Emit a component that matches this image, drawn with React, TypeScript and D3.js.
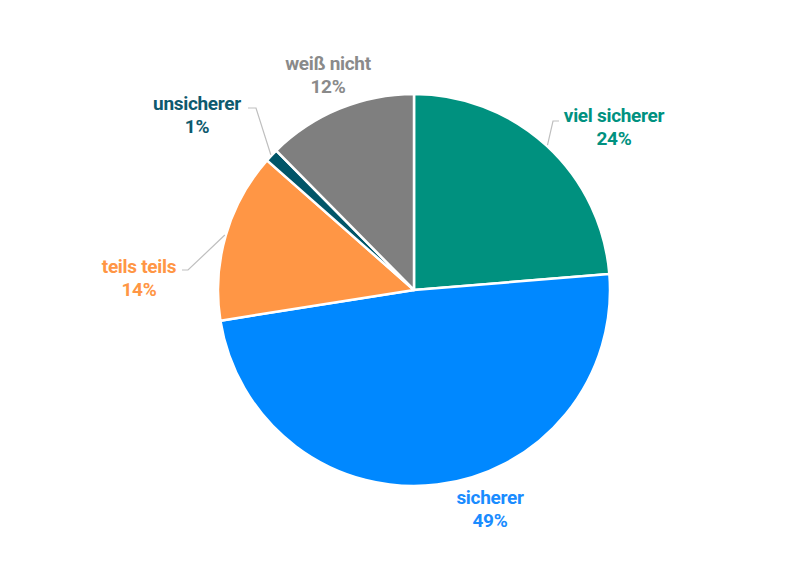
import React from "react";
import * as d3 from "d3";

const categories = ["viel sicherer", "sicherer", "teils teils", "unsicherer", "weiß nicht"];
const values = [23.7, 48.8, 14.0, 1.1, 12.4];
const percentLabels = ["24%", "49%", "14%", "1%", "12%"];
const colors = ["#00917F", "#0088FF", "#FF9645", "#005568", "#7F7F7F"];
const labelColors = ["#00917F", "#1A8CFF", "#FF9645", "#0E5A6E", "#8A8A8A"];

// label layout: text anchor (center, first baseline) and leader elbow point
const labelPos = [
  { x: 614, y: 122, elbowX: 553, elbowY: 121, endX: 559 },
  { x: 490, y: 504, elbowX: null, elbowY: null, endX: null },
  { x: 139, y: 273, elbowX: 188, elbowY: 270, endX: 182 },
  { x: 197, y: 110, elbowX: 256, elbowY: 108, endX: 248 },
  { x: 328, y: 70, elbowX: null, elbowY: null, endX: null },
];

const W = 794;
const H = 580;
const cx = 414;
const cy = 290;
const R = 196;

export default function App() {
  const pie = d3.pie<number>().sort(null).value((d) => d);
  const arcs = pie(values);
  const arcGen = d3.arc<d3.PieArcDatum<number>>().innerRadius(0).outerRadius(R);
  const font = "Roboto, 'Noto Sans', sans-serif";

  const leaders = arcs.map((a, i) => {
    const lp = labelPos[i];
    if (lp.elbowX === null) return null;
    const mid = (a.startAngle + a.endAngle) / 2;
    const px = cx + Math.sin(mid) * (R + 1);
    const py = cy - Math.cos(mid) * (R + 1);
    return `M${px},${py}L${lp.elbowX},${lp.elbowY}L${lp.endX},${lp.elbowY}`;
  });

  return (
    <svg width={W} height={H} style={{ display: "block", position: "absolute", left: 0, top: 0 }}>
      <rect width={W} height={H} fill="#ffffff" />
      <g transform={`translate(${cx},${cy})`}>
        {arcs.map((a, i) => (
          <path key={i} d={arcGen(a) || ""} fill={colors[i]} stroke="#ffffff" strokeWidth={2.5} strokeLinejoin="round" />
        ))}
      </g>
      {leaders.map((d, i) =>
        d ? <path key={i} d={d} fill="none" stroke="#BFBFBF" strokeWidth={1.2} /> : null
      )}
      {categories.map((c, i) => (
        <text
          key={c}
          x={labelPos[i].x}
          y={labelPos[i].y}
          textAnchor="middle"
          fontFamily={font}
          fontWeight={700}
          fontSize={19}
          letterSpacing={-0.3}
          fill={labelColors[i]}
        >
          <tspan x={labelPos[i].x} dy={0}>{c}</tspan>
          <tspan x={labelPos[i].x} dy={23}>{percentLabels[i]}</tspan>
        </text>
      ))}
    </svg>
  );
}
